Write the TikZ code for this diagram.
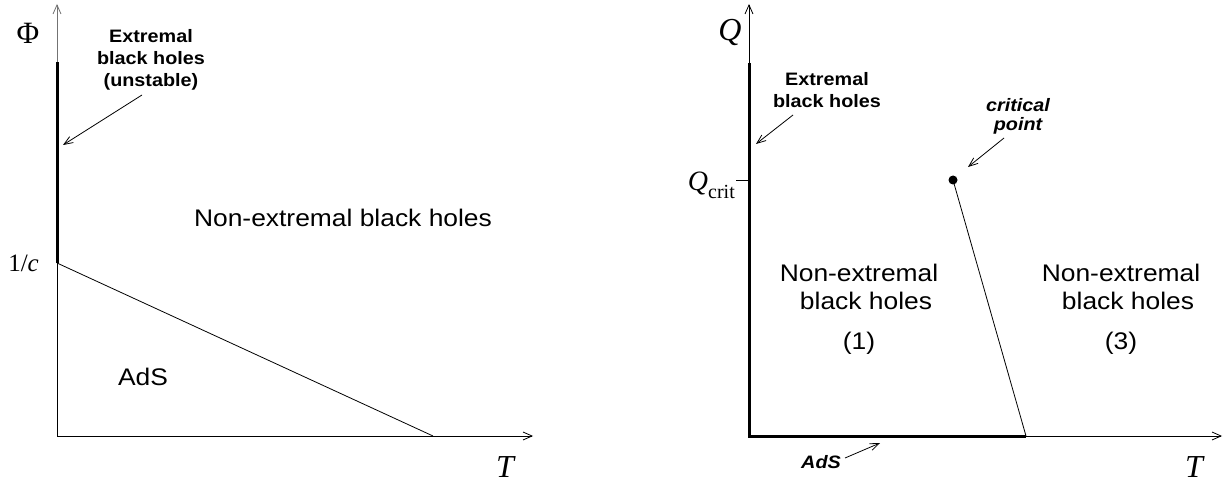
\documentclass[tikz,border=0pt]{standalone}
\usepackage{fontspec}
\setmainfont{Liberation Sans}
\newfontfamily\widesans[FakeStretch=1.1]{Liberation Sans}
\newfontfamily\serifrm{Liberation Serif}
\usetikzlibrary{arrows.meta}
\tikzset{
  axis/.style={line width=0.9pt,-{Straight Barb[length=9pt,width=8pt,line width=0.8pt]}},
  thickline/.style={line width=3pt},
  thinline/.style={line width=0.8pt},
  pointer/.style={line width=0.8pt,-{Straight Barb[length=9pt,width=7pt,line width=0.8pt]}},
  region/.style={font=\widesans\fontsize{24}{28}\selectfont,inner sep=0pt,align=center},
  boldlabel/.style={font=\widesans\fontsize{18}{22}\selectfont\bfseries,inner sep=0pt,align=center},
  bilabel/.style={font=\widesans\fontsize{18}{19}\selectfont\bfseries\itshape,inner sep=0pt,align=center},
  mathlabel/.style={font=\fontsize{32}{32}\selectfont\serifrm\itshape,inner sep=0pt}
}
\begin{document}
\begin{tikzpicture}[x=1pt,y=-1pt]
\useasboundingbox (0,0) rectangle (1225,486);
% ---------- left panel ----------
\coordinate (LO) at (57,436);
\coordinate (LYtop) at (57,4);
\coordinate (LXend) at (533,436);
\coordinate (Lc) at (57,263);
\coordinate (Lext) at (57,62);
\coordinate (Ldiag) at (433,436);
\draw[axis,black!55] (Lext) -- (LYtop);
\draw[thinline] (LO) -- (Lc);
\draw[axis] (LO) -- (LXend);
\draw[thickline] (Lc) -- (Lext);
\draw[thinline] (Lc) -- (Ldiag);
\node[font=\fontsize{31}{31}\selectfont\serifrm,inner sep=0pt] (Phi) at (28,33) {Φ};
\node[font=\fontsize{25}{25}\selectfont\serifrm,inner sep=0pt,anchor=east] (oneoverc) at (39,263) {1/\textit{c}};
\node[mathlabel] (TL) at (505,467) {T};
\node[boldlabel] (LExt) at (151,60) {Extremal\\black holes\\(unstable)};
\coordinate (LExtTail) at (142,95);
\coordinate (LExtHead) at (63,145);
\draw[pointer] (LExtTail) -- (LExtHead);
\node[region] (LNon) at (343,218) {Non-extremal black holes};
\node[region] (LAdS) at (143,377) {AdS};
% ---------- right panel ----------
\coordinate (RO) at (749,436);
\coordinate (RYtop) at (749,4);
\coordinate (RXend) at (1222,436);
\coordinate (Rext) at (749,63);
\coordinate (Rtr) at (1026,436);
\coordinate (Rcrit) at (749,180);
\coordinate (Rtick) at (736,180);
\draw[axis] (Rext) -- (RYtop);
\draw[axis] (Rtr) -- (RXend);
\draw[thickline] (Rext) -- (RO) -- (Rtr);
\draw[thinline] (Rtick) -- (Rcrit);
\node[circle,fill=black,inner sep=0pt,minimum size=9pt] (cp) at (953,180) {};
\draw[thinline] (cp.center) -- (Rtr);
\node[mathlabel] (QR) at (730,33) {Q};
\node[anchor=east,inner sep=0pt] (Qcrit) at (735,185) {\fontsize{28}{28}\selectfont\serifrm\itshape Q\raisebox{-8pt}{\fontsize{20}{20}\selectfont\upshape crit}};
\node[mathlabel] (TR) at (1194,467) {T};
\node[boldlabel] (RExt) at (827,90) {Extremal\\black holes};
\coordinate (RExtTail) at (793,115);
\coordinate (RExtHead) at (756,144);
\draw[pointer] (RExtTail) -- (RExtHead);
\node[bilabel] (critlab) at (1018,116) {critical\\point};
\coordinate (critTail) at (1004,138);
\coordinate (critHead) at (968,167);
\draw[pointer] (critTail) -- (critHead);
\node[bilabel] (RAdS) at (821,462) {AdS};
\coordinate (AdSTail) at (845,458);
\coordinate (AdSHead) at (880,443);
\draw[pointer] (AdSTail) -- (AdSHead);
\node[region] (R1) at (859,309) {Non-extremal\\\hspace*{14pt}black holes\\[12pt](1)};
\node[region] (R3) at (1121,309) {Non-extremal\\\hspace*{14pt}black holes\\[12pt](3)};
\end{tikzpicture}
\end{document}
